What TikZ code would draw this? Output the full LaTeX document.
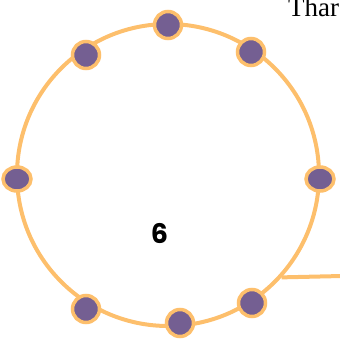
\documentclass[tikz,border=0pt]{standalone}
\usepackage{fontspec}
\setmainfont{Liberation Serif}
\newfontfamily\numfont{Poppins}[BoldFont={Poppins Bold}]
\usetikzlibrary{positioning, shapes.geometric}
\definecolor{ringorange}{HTML}{FDBF6C}
\definecolor{dotpurple}{HTML}{745F92}
\tikzset{
  ring/.style={
    circle, draw=ringorange, line width=4pt,
    minimum size=302pt, inner sep=0pt
  },
  seat/.style={
    circle, draw=ringorange, fill=dotpurple, line width=3.5pt,
    minimum size=27pt, inner sep=0pt
  },
  sideseat/.style={
    ellipse, draw=ringorange, fill=dotpurple, line width=3.5pt,
    minimum width=28pt, minimum height=24pt, inner sep=0pt
  },
  tail/.style={draw=ringorange, line width=4pt},
}

\begin{document}
\begin{tikzpicture}[x=1pt, y=-1pt]
  \useasboundingbox (0,0) rectangle (340,343);
  \clip (0,0) rectangle (340,343);

  \node[ring] (table) at (168,175) {};

  \coordinate (tailend) at (342,276);
  \draw[tail] (table.-42) -- (tailend);

  \node[seat] (s1) at (168,25) {};
  \node[seat] (s2) at (86,55) {};
  \node[seat] (s3) at (251,52) {};
  \node[sideseat] (s4) at (17,179) {};
  \node[sideseat] (s5) at (320,179) {};
  \node[seat] (s6) at (86,309) {};
  \node[seat] (s7) at (180,323) {};
  \node[seat] (s8) at (252,303) {};

  \node[font=\numfont\bfseries\fontsize{27}{27}\selectfont] (count) at (159.5,233) {6};

  \node[anchor=base west, inner sep=0pt, font=\fontsize{27}{27}\selectfont] (note) at (288,16) {Thar};
\end{tikzpicture}
\end{document}
